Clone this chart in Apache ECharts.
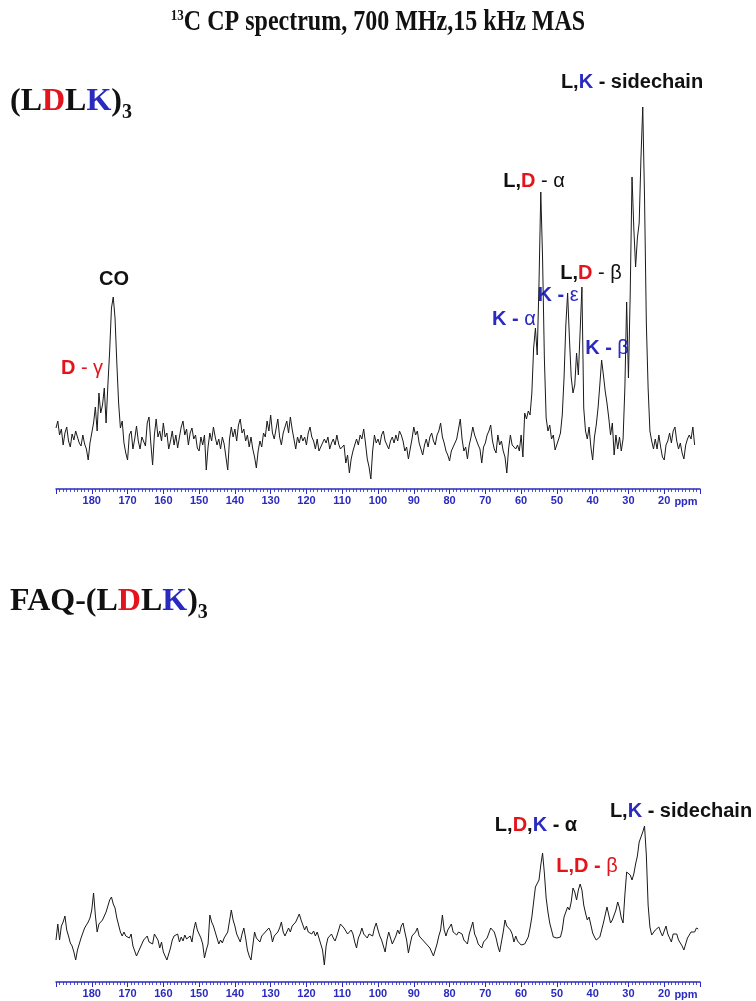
<!DOCTYPE html>
<html><head><meta charset="utf-8">
<script src="https://cdn.jsdelivr.net/npm/echarts@6/dist/echarts.min.js"></script>
<style>html,body{margin:0;padding:0;background:#fff}#c{width:756px;height:1001px}</style>
</head><body><div id="c"></div>
<script>
// ---- data ----
const tickLabels = [180,170,160,150,140,130,120,110,100,90,80,70,60,50,40,30,20];
const axisMinPpm = 10, axisMaxPpm = 190, axisStepPpm = 10;

// (LDLK)3 spectrum: intensity (a.u.) sampled every 0.5 ppm from 190 ppm downward
const topPpmStart = 190, topPpmStep = 0.5;
const topIntensity = [
  15,22,8,14,-2,10,16,2,-4,9,3,12,14,0,-3,8,-1,-6,-17,0,          // 190 - 180.5
  10,20,36,12,50,30,38,55,20,58,92,135,146,125,80,40,15,22,0,-10, // 180 - 170.5
  -17,8,12,-6,4,17,2,-6,6,8,-3,20,26,0,-22,8,24,6,12,2,          // 170 - 160.5
  20,6,10,-6,2,12,-2,8,-5,6,16,22,8,14,-2,10,15,4,8,-5,          // 160 - 150.5
  -8,6,-2,8,-27,-4,10,2,16,6,-2,4,-6,6,-1,-14,-27,4,16,6,        // 150 - 140.5
  14,2,18,24,10,14,2,8,-4,6,-6,-14,-25,-8,2,-4,10,6,22,12,       // 140 - 130.5
  28,10,4,14,24,6,-2,10,16,22,10,26,14,4,-6,6,0,8,2,6,           // 130 - 120.5
  -2,10,16,6,2,-6,4,-8,-4,-2,4,0,6,-6,0,4,-2,8,-1,-6,            // 120 - 110.5
  -8,-2,-20,-12,-30,-16,-8,-2,4,-2,8,4,14,0,-16,-24,-36,-8,8,0,  // 110 - 100.5
  4,-2,8,12,2,4,-6,2,6,0,8,2,12,8,2,-8,-4,-16,-14,4,             // 100 - 90.5
  16,8,12,0,-6,-12,-2,4,-4,6,10,2,-2,8,12,20,6,0,-8,-12,         // 90 - 80.5
  -18,-8,-10,0,4,14,24,4,-8,-4,-16,-2,6,16,8,10,-2,-6,-20,-4,    // 80 - 70.5
  0,8,12,18,2,-6,-10,8,-2,2,-8,-14,-30,-6,8,-2,0,-6,-2,-8,       // 70 - 60.5
  8,-14,30,24,32,28,50,95,115,88,160,251,185,85,25,12,18,4,8,-7, // 60 - 50.5
  -6,4,10,28,65,118,150,105,66,50,58,90,68,112,156,35,12,4,16,-4, // 50 - 40.5
  -17,6,18,35,58,83,68,52,40,25,8,20,-12,8,-6,6,-8,4,55,141,     // 40 - 30.5
  65,150,266,215,176,205,220,285,336,245,120,55,12,2,-6,4,-6,8,-4,-14, // 30 - 20.5
  -17,-2,2,10,0,12,16,2,-6,0,-10,-16,-2,4,8,4,16,-2              // 20 - 11.5
];

// FAQ-(LDLK)3 spectrum: intensity (a.u.) sampled every 0.5 ppm from 190 ppm downward
const bottomPpmStart = 190, bottomPpmStep = 0.5;
const bottomIntensity = [
  0,16,0,14,18,24,10,4,-3,-6,-12,-20,-10,-4,2,2,12,12,18,22,     // 190 - 180.5
  30,47,25,8,16,14,20,18,28,30,40,43,36,32,22,20,8,4,8,4,        // 180 - 170.5
  6,2,6,-6,-6,-16,-18,-8,-6,0,2,4,-2,0,-4,6,8,0,-8,-2,           // 170 - 160.5
  -12,-14,-20,-22,-8,0,4,2,6,-2,3,-1,5,1,2,4,-2,10,18,10,        // 160 - 150.5
  10,2,-4,-18,-10,-4,25,18,14,8,6,-4,0,-3,2,0,8,10,30,20,        // 150 - 140.5
  14,6,4,-2,6,12,2,-10,-16,-20,-6,8,2,2,-2,4,3,8,6,12,           // 140 - 130.5
  8,-2,4,4,8,12,18,8,4,6,12,8,14,12,18,20,26,20,18,10,           // 130 - 120.5
  14,8,8,6,9,4,8,2,0,-10,-25,-6,2,2,6,2,-1,4,10,16,              // 120 - 110.5
  18,12,12,6,8,10,6,-2,-8,2,6,12,6,6,2,6,8,4,12,17,              // 110 - 100.5
  10,4,0,-6,-12,0,8,2,-4,0,4,10,6,14,17,8,0,-13,-4,4,            // 100 - 90.5
  6,8,12,4,6,0,2,-4,-6,-8,-10,-16,-18,-4,4,10,25,10,4,10,        // 90 - 80.5
  12,16,8,9,5,8,6,6,0,0,-4,6,12,18,6,2,-4,-4,-8,-2,              // 80 - 70.5
  -2,2,4,12,12,8,2,-6,-12,-2,8,20,14,14,10,6,-2,4,-1,-2,         // 70 - 60.5
  -5,-7,-4,-2,3,12,23,38,53,55,60,75,87,67,42,28,17,10,3,2,      // 60 - 50.5
  2,1,3,10,23,28,33,30,38,52,48,40,50,56,50,35,27,20,23,15,      // 50 - 40.5
  7,3,0,0,3,10,17,25,33,25,17,20,22,30,38,32,22,17,45,68,        // 40 - 30.5
  68,65,60,66,76,84,98,100,108,114,85,35,13,5,6,10,12,13,8,4,    // 30 - 20.5
  6,14,6,4,-2,6,6,6,0,2,-6,-10,-4,2,2,8,9,8,12,11                // 20 - 10.5
];

// ---- build ----
function toPairs(start, step, vals){ return vals.map((v,i)=>[start - i*step, v]); }
const topData = toPairs(topPpmStart, topPpmStep, topIntensity);
const bottomData = toPairs(bottomPpmStart, bottomPpmStep, bottomIntensity);

const BLUE = '#2a2ac0', RED = '#e3141c', BLACK = '#111';
const SANS = "'Liberation Sans', Arial, sans-serif";
const NARROW = "'Liberation Sans Narrow', 'Liberation Sans', Arial, sans-serif";
const SERIF = "'Liberation Serif', 'Times New Roman', serif";
const FS = 20;

function xAx(gi){
  return {
    type:'value', gridIndex:gi, min:axisMinPpm, max:axisMaxPpm, interval:axisStepPpm, inverse:true,
    position:'bottom',
    axisLine:{show:true, onZero:false, lineStyle:{color:BLUE, width:1.5}},
    axisTick:{show:true, inside:false, length:5, lineStyle:{color:BLUE, width:1}},
    minorTick:{show:true, splitNumber:10, length:3, lineStyle:{color:BLUE, width:0.8}},
    splitLine:{show:false},
    axisLabel:{margin:6, color:BLUE, fontFamily:NARROW, fontWeight:'bold', fontSize:11,
      showMinLabel:true, showMaxLabel:true,
      formatter: v => tickLabels.indexOf(v) >= 0 ? String(v) : ''}
  };
}
function yAx(gi, mn){ return {type:'value', gridIndex:gi, min:mn, max:mn+393, show:false, splitLine:{show:false}}; }

function rs(color, w){ return {fontFamily:SANS, fontWeight:w, fontSize:FS, fill:color, color:color}; }
const rich = {
  b:rs(BLACK,'bold'), r:rs(RED,'bold'), u:rs(BLUE,'bold'),
  bn:rs(BLACK,'normal'), rn:rs(RED,'normal'), un:rs(BLUE,'normal')
};
function label(x, y, text){
  return {type:'text', x:x, y:y, style:{text:text, rich:rich, align:'center', verticalAlign:'middle', font:"bold "+FS+"px "+SANS}};
}
const serifRich = {
  p:{fontFamily:SERIF, fontWeight:'bold', fontSize:32, fill:BLACK, lineHeight:42, verticalAlign:'middle'},
  r:{fontFamily:SERIF, fontWeight:'bold', fontSize:32, fill:RED, lineHeight:42, verticalAlign:'middle'},
  u:{fontFamily:SERIF, fontWeight:'bold', fontSize:32, fill:BLUE, lineHeight:42, verticalAlign:'middle'},
  sub:{fontFamily:SERIF, fontWeight:'bold', fontSize:20, fill:BLACK, verticalAlign:'bottom', lineHeight:20}
};

const chart = echarts.init(document.getElementById('c'), null, {renderer:'canvas'});
chart.setOption({
  animation:false,
  backgroundColor:'#fff',
  grid:[
    {left:56, right:56, top:96, height:393},
    {left:56, right:56, top:589, height:393}
  ],
  xAxis:[xAx(0), xAx(1)],
  yAxis:[yAx(0,-46), yAx(1,-42)],
  series:[
    {type:'line', xAxisIndex:0, yAxisIndex:0, data:topData, symbol:'none', lineStyle:{color:'#1a1a1a', width:1}},
    {type:'line', xAxisIndex:1, yAxisIndex:1, data:bottomData, symbol:'none', lineStyle:{color:'#1a1a1a', width:1}}
  ],
  graphic:[
    {type:'text', x:378, y:23, scaleY:1.2, style:{text:'{s|13}{t|C CP spectrum, 700 MHz,15 kHz MAS}', align:'center', verticalAlign:'middle',
      rich:{s:{fontFamily:SERIF, fontWeight:'bold', fontSize:13, verticalAlign:'top', fill:'#111'}, t:{fontFamily:SERIF, fontWeight:'bold', fontSize:24, fill:'#111'}}}},
    {type:'text', x:10, y:102, style:{text:'{p|(L}{r|D}{p|L}{u|K}{p|)}{sub|3}', rich:serifRich, align:'left', verticalAlign:'middle'}},
    {type:'text', x:10, y:602, style:{text:'{p|FAQ-(L}{r|D}{p|L}{u|K}{p|)}{sub|3}', rich:serifRich, align:'left', verticalAlign:'middle'}},
    {type:'text', x:686, y:502, style:{text:'ppm', fill:BLUE, font:"bold 11px "+NARROW, align:'center', verticalAlign:'middle'}},
    {type:'text', x:686, y:995, style:{text:'ppm', fill:BLUE, font:"bold 11px "+NARROW, align:'center', verticalAlign:'middle'}},
    // top annotations
    label(632, 82, '{b|L,}{u|K}{b| - sidechain}'),
    label(534, 181, '{b|L,}{r|D}{bn| - α}'),
    label(114, 279, '{b|CO}'),
    label(82, 368, '{r|D}{rn| - γ}'),
    label(514, 319, '{u|K -}{un| α}'),
    label(558, 295, '{u|K -}{un| ε}'),
    label(591, 273, '{b|L,}{r|D}{bn| - β}'),
    label(607, 348, '{u|K -}{un| β}'),
    // bottom annotations
    label(536, 825, '{b|L,}{r|D}{b|,}{u|K}{b| - α}'),
    label(587, 866, '{r|L,D -}{rn| β}'),
    label(681, 811, '{b|L,}{u|K}{b| - sidechain}')
  ]
});
</script></body></html>
